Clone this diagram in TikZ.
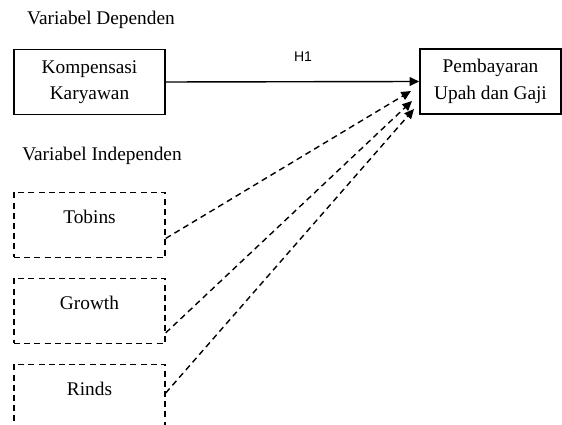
\documentclass[tikz,border=0pt]{standalone}
\usepackage{fontspec}
\setmainfont{Liberation Serif}
\setsansfont{Liberation Sans}
\usetikzlibrary{arrows.meta,positioning}
\tikzset{varbox/.style={draw=black, line width=0.9pt, minimum width=3.02cm, minimum height=1.3cm, align=center, font=\fontsize{11}{15}\selectfont}}
\tikzset{indbox/.style={varbox, dash pattern=on 3.4pt off 2.4pt, line width=0.85pt}}
\tikzset{heading/.style={font=\fontsize{11}{13}\selectfont}}

\begin{document}
\begin{tikzpicture}[x=0.02cm, y=-0.02cm, >={Triangle[length=5.5pt,width=5pt]}]
    \clip (0,0) rectangle (562,425);
    \node[heading] (deplab) at (101, 20) {Variabel Dependen};
    \node[heading] (indlab) at (102, 156) {Variabel Independen};
    \node[varbox] (komp) at (89.5, 82) {Kompensasi\\Karyawan};
    \node[varbox, minimum width=2.82cm] (pemb) at (490.5, 81.5) {Pembayaran\\Upah dan Gaji};
    \node[font=\sffamily\fontsize{8}{9}\selectfont] (hyp) at (303, 57) {H1};
    \node[indbox, label={[yshift=0.16cm, font=\fontsize{11}{13}\selectfont]center:Tobins}] (tobins) at (89.5, 225) {};
    \node[indbox, label={[yshift=0.16cm, font=\fontsize{11}{13}\selectfont]center:Growth}] (growth) at (89.5, 311) {};
    \node[indbox, label={[yshift=0.16cm, font=\fontsize{11}{13}\selectfont]center:Rinds}] (rinds) at (89.5, 397) {};

    \coordinate (t1) at (411, 91);
    \coordinate (t2) at (412, 101);
    \coordinate (t3) at (414, 109);

    \draw[->, line width=0.8pt] (komp.east) -- (pemb.west);
    \draw[->, line width=0.8pt, dash pattern=on 3.4pt off 2.4pt]
    (tobins.-10.5) -- (t1);
    \draw[->, line width=0.8pt, dash pattern=on 3.4pt off 2.4pt]
    (growth.-16.2) -- (t2);
    \draw[->, line width=0.8pt, dash pattern=on 3.4pt off 2.4pt]
    (rinds.3) -- (t3);
\end{tikzpicture}
\end{document}
